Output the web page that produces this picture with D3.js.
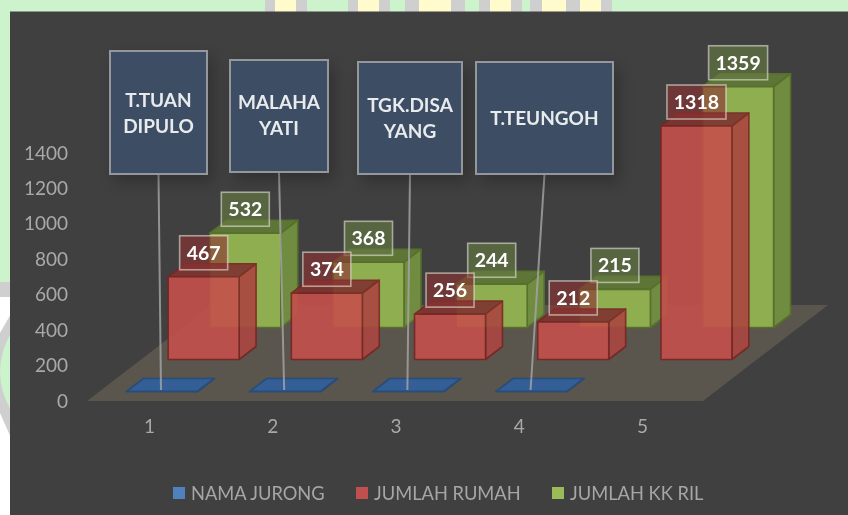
<!DOCTYPE html>
<html>
<head>
<meta charset="utf-8">
<script src="https://cdn.jsdelivr.net/npm/d3@7/dist/d3.min.js"></script>
<style>
  html, body { margin: 0; padding: 0; background: #fff; }
  svg { display: block; font-family: Lato, "Open Sans", sans-serif; filter: blur(0.4px); }
</style>
</head>
<body>
<svg id="chart" width="848" height="515"></svg>
<script>
const categories = ['1', '2', '3', '4', '5'];
const seriesNames = ['NAMA JURONG', 'JUMLAH RUMAH', 'JUMLAH KK RIL'];
const namaJurong = [0, 0, 0, 0]; // the fifth row has no name in the sheet
const jumlahRumah = [467, 374, 256, 212, 1318];
const jumlahKk = [532, 368, 244, 215, 1359];
const yTicks = [0, 200, 400, 600, 800, 1000, 1200, 1400];
const jurongNames = [['T.TUAN', 'DIPULO'], ['MALAHA', 'YATI'], ['TGK.DISA', 'YANG'], ['T.TEUNGOH']];

// Hand placed callouts, same as in the original sheet
const calloutBoxes = [
  { x: 110, y: 51, w: 97, h: 123 },
  { x: 230, y: 60, w: 98, h: 112 },
  { x: 358, y: 62, w: 104, h: 112 },
  { x: 476, y: 62, w: 137, h: 112 }
];

const faceColors = {
  'NAMA JURONG': { front: '#3e6ba3', side: '#345b8c', top: '#335f96', line: '#2a4c78', swatch: '#4f81bd' },
  'JUMLAH RUMAH': { front: '#c4504b', side: '#aa4640', top: '#7f3330', line: '#7a2523', swatch: '#c0504d' },
  'JUMLAH KK RIL': { front: '#8fae50', side: '#708c41', top: '#5d7537', line: '#57702b', swatch: '#9bbb59' }
};

const svg = d3.select('#chart');
const defs = svg.append('defs');

const shadow = defs.append('filter').attr('id', 'soft-shadow')
  .attr('x', '-30%').attr('y', '-30%').attr('width', '160%').attr('height', '160%');
shadow.append('feDropShadow')
  .attr('dx', 5).attr('dy', 7).attr('stdDeviation', 8)
  .attr('flood-color', '#000').attr('flood-opacity', 0.25);

// Watermark bits peeking out around the dark panel
const backdrop = svg.append('g').attr('class', 'backdrop');
backdrop.append('rect').attr('width', 848).attr('height', 515).attr('fill', '#fff');
backdrop.append('rect').attr('width', 848).attr('height', 282).attr('fill', '#ccf3cc');
backdrop.append('rect').attr('y', 282).attr('width', 12).attr('height', 15).attr('fill', '#cfcfcf');
backdrop.append('path').attr('d', 'M12,312 L0,333 L0,413 L12,440 Z').attr('fill', '#cfcfcf');
backdrop.append('path').attr('d', 'M12,331 Q-12,372 12,412 Z').attr('fill', '#ccf3cc');
const stripes = [
  [265, 10, '#cfcfcf'], [275, 21, '#fffbcc'], [296, 11, '#cfcfcf'],
  [348, 10, '#cfcfcf'], [358, 21, '#fffbcc'], [379, 11, '#cfcfcf'],
  [405, 14, '#cfcfcf'], [419, 32, '#fffbcc'], [451, 14, '#cfcfcf'],
  [479, 11, '#cfcfcf'], [490, 21, '#fffbcc'], [511, 11, '#cfcfcf'],
  [530, 12, '#cfcfcf'], [542, 24, '#fffbcc'], [566, 14, '#cfcfcf'],
  [580, 21, '#fffbcc'], [601, 11, '#cfcfcf']
];
backdrop.selectAll('rect.stripe').data(stripes).join('rect')
  .attr('class', 'stripe')
  .attr('x', d => d[0]).attr('y', 0)
  .attr('width', d => d[1]).attr('height', 12)
  .attr('fill', d => d[2]);

svg.append('rect')
  .attr('x', 10).attr('y', 11.5).attr('width', 838).attr('height', 503.5)
  .attr('fill', '#404040');

// Scales. x runs along the front edge of the floor, depth runs into the picture.
const y = d3.scaleLinear().domain([0, 1400]).range([401, 153]);
const x = d3.scaleBand().domain(categories).range([88, 704]).paddingInner(0.4237).paddingOuter(0.2119);
const depth = d3.scaleBand().domain(seriesNames).range([0, 96]).paddingInner(0.594).paddingOuter(0.297);
const slant = 125 / 96;

// World position on the floor plane + height -> screen position
function project(wx, d, h) {
  return [wx + d * slant, y(h) - d];
}

function polygon(points) {
  return points.map((p, i) => `${i === 0 ? 'M' : 'L'}${p[0]},${p[1]}`).join(' ') + ' Z';
}

// Floor
svg.append('path')
  .attr('d', polygon([project(87, 0, 0), project(703, 0, 0), project(703, 96, 0), project(87, 96, 0)]))
  .attr('fill', '#5a554d');

// Axes
const yAxis = d3.axisLeft(y).tickValues(yTicks).tickFormat(d3.format('d')).tickSize(0).tickPadding(0);
const yAxisGroup = svg.append('g').attr('transform', 'translate(68,0)').call(yAxis);
const xAxis = d3.axisBottom(x).tickSize(0).tickPadding(0);
const xAxisGroup = svg.append('g').attr('transform', 'translate(0,419)').call(xAxis);
[yAxisGroup, xAxisGroup].forEach(g => {
  g.select('.domain').remove();
  g.selectAll('text').attr('font-size', 19).attr('fill', '#a9a9a9').attr('font-family', 'Lato, sans-serif');
});

const barData = (name, values) => values.map((v, i) => ({ name, value: v, category: categories[i] }));

function drawBars(name, values, opacity) {
  const c = faceColors[name];
  const d0 = depth(name);
  const d1 = d0 + depth.bandwidth();
  const bars = svg.append('g').attr('class', 'series').attr('opacity', opacity)
    .selectAll('g').data(barData(name, values)).join('g');

  const strokeFace = sel => sel
    .attr('stroke', c.line).attr('stroke-width', 1.6).attr('stroke-linejoin', 'round');

  bars.append('path')
    .attr('d', d => {
      const l = x(d.category), r = l + x.bandwidth();
      return polygon([project(l, d0, d.value), project(r, d0, d.value), project(r, d1, d.value), project(l, d1, d.value)]);
    })
    .attr('fill', c.top).call(strokeFace);
  bars.append('path')
    .attr('d', d => {
      const r = x(d.category) + x.bandwidth();
      return polygon([project(r, d0, 0), project(r, d1, 0), project(r, d1, d.value), project(r, d0, d.value)]);
    })
    .attr('fill', c.side).call(strokeFace);
  bars.append('path')
    .attr('d', d => {
      const l = x(d.category), r = l + x.bandwidth();
      return polygon([project(l, d0, 0), project(r, d0, 0), project(r, d0, d.value), project(l, d0, d.value)]);
    })
    .attr('fill', c.front).call(strokeFace);
}

drawBars('NAMA JURONG', namaJurong, 1);
drawBars('JUMLAH KK RIL', jumlahKk, 1);
drawBars('JUMLAH RUMAH', jumlahRumah, 0.9);

// Callouts with leader lines down to the blue markers
const callouts = svg.append('g').selectAll('g').data(calloutBoxes).join('g');
callouts.append('line')
  .attr('x1', d => d.x + d.w / 2)
  .attr('y1', d => d.y + d.h)
  .attr('x2', (d, i) => project(x(categories[i]) + x.bandwidth() / 2, depth('NAMA JURONG'), 0)[0] - 1)
  .attr('y2', 390)
  .attr('stroke', '#a6a6a6').attr('stroke-width', 2).attr('stroke-opacity', 0.8);
callouts.append('rect')
  .attr('x', d => d.x).attr('y', d => d.y).attr('width', d => d.w).attr('height', d => d.h)
  .attr('fill', '#3d4d63').attr('stroke', '#94989d').attr('stroke-width', 2)
  .attr('filter', 'url(#soft-shadow)');
callouts.each(function (d, i) {
  const lines = jurongNames[i];
  const mid = d.y + d.h / 2 + (i === 0 ? 1 : i === 1 ? -1 : 0);
  d3.select(this).selectAll('text').data(lines).join('text')
    .attr('x', d.x + d.w / 2)
    .attr('y', (t, k) => mid + (k - (lines.length - 1) / 2) * 26)
    .attr('dy', '0.36em')
    .attr('text-anchor', 'middle')
    .attr('font-size', 19).attr('font-weight', 700)
    .attr('fill', '#e8ebee')
    .text(t => t);
});

// Value labels sit above the top front edge of each bar
function drawValueLabels(name, values) {
  const d0 = depth(name);
  const tint = name === 'JUMLAH RUMAH' ? 'rgba(140,50,50,0.62)' : 'rgba(104,124,66,0.62)';
  const labels = svg.append('g').selectAll('g').data(barData(name, values)).join('g')
    .attr('transform', d => {
      const p = project(x(d.category) + x.bandwidth() / 2, d0, d.value);
      return `translate(${p[0]},${p[1] - 24})`;
    });
  labels.append('rect')
    .attr('x', d => d.value >= 1000 ? -29.5 : -24)
    .attr('y', -17)
    .attr('width', d => d.value >= 1000 ? 59 : 48)
    .attr('height', 34)
    .attr('fill', tint)
    .attr('stroke', 'rgba(225,225,215,0.62)').attr('stroke-width', 1.6);
  labels.append('text')
    .attr('text-anchor', 'middle').attr('dy', '0.36em')
    .attr('font-size', 19.5).attr('font-weight', 700).attr('fill', '#fff')
    .text(d => d.value);
}

drawValueLabels('JUMLAH KK RIL', jumlahKk);
drawValueLabels('JUMLAH RUMAH', jumlahRumah);

// Legend
const legendX = [173, 356, 552];
const legend = svg.append('g').selectAll('g').data(seriesNames).join('g')
  .attr('transform', (d, i) => `translate(${legendX[i]},493)`);
legend.append('rect')
  .attr('y', -6).attr('width', 12).attr('height', 12)
  .attr('fill', d => faceColors[d].swatch);
legend.append('text')
  .attr('x', 18).attr('dy', '0.36em')
  .attr('font-size', 18.3).attr('fill', '#a6a6a6')
  .text(d => d);
</script>
</body>
</html>
